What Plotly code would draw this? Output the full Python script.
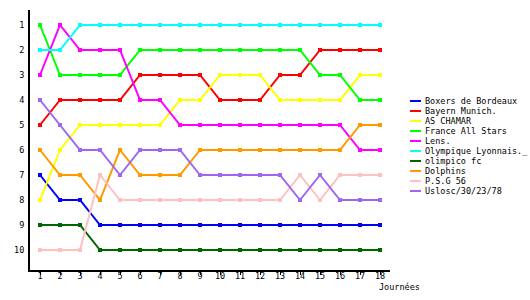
import plotly.graph_objects as go

journees = list(range(1, 19))

teams = ["Boxers de Bordeaux", "Bayern Munich.", "AS CHAMAR", "France All Stars",
         "Lens.", "Olympique Lyonnais._", "olimpico fc", "Dolphins", "P.S.G 56",
         "Uslosc/30/23/78"]

colors = ["#0000FF", "#FF0000", "#FFFF00", "#00FF00", "#FF00FF",
          "#00FFFF", "#006600", "#FF9900", "#FFC0C0", "#A066F0"]

boxers = [7, 8, 8, 9, 9, 9, 9, 9, 9, 9, 9, 9, 9, 9, 9, 9, 9, 9]
bayern = [5, 4, 4, 4, 4, 3, 3, 3, 3, 4, 4, 4, 3, 3, 2, 2, 2, 2]
chamar = [8, 6, 5, 5, 5, 5, 5, 4, 4, 3, 3, 3, 4, 4, 4, 4, 3, 3]
france = [1, 3, 3, 3, 3, 2, 2, 2, 2, 2, 2, 2, 2, 2, 3, 3, 4, 4]
lens = [3, 1, 2, 2, 2, 4, 4, 5, 5, 5, 5, 5, 5, 5, 5, 5, 6, 6]
lyon = [2, 2, 1, 1, 1, 1, 1, 1, 1, 1, 1, 1, 1, 1, 1, 1, 1, 1]
olimpico = [9, 9, 9, 10, 10, 10, 10, 10, 10, 10, 10, 10, 10, 10, 10, 10, 10, 10]
dolphins = [6, 7, 7, 8, 6, 7, 7, 7, 6, 6, 6, 6, 6, 6, 6, 6, 5, 5]
psg = [10, 10, 10, 7, 8, 8, 8, 8, 8, 8, 8, 8, 8, 7, 8, 7, 7, 7]
uslosc = [4, 5, 6, 6, 7, 6, 6, 6, 7, 7, 7, 7, 7, 8, 7, 8, 8, 8]

series = [boxers, bayern, chamar, france, lens, lyon, olimpico, dolphins, psg, uslosc]

FONT = "DejaVu Sans Mono"
FS = 8.5

fig = go.Figure()
for name, col, vals in zip(teams, colors, series):
    fig.add_trace(go.Scatter(
        x=journees, y=vals, name=name, mode="lines+markers",
        line=dict(color=col, width=2),
        marker=dict(color=col, size=4, symbol="square"),
        showlegend=False,
    ))

# manual compact legend
L, T, PW, PH = 30, 10, 360, 260
def px_x(p):
    return (p - L) / PW
def px_y(p):
    return (T + PH - p) / PH

for i, (name, col) in enumerate(zip(teams, colors)):
    py = 101 + 10 * i
    fig.add_shape(type="line", xref="paper", yref="paper",
                  x0=px_x(410), x1=px_x(421), y0=px_y(py), y1=px_y(py),
                  line=dict(color=col, width=2))
    fig.add_annotation(xref="paper", yref="paper", x=px_x(423), y=px_y(py),
                       xanchor="left", yanchor="middle", text=name, showarrow=False,
                       font=dict(family=FONT, size=FS, color="black"))

fig.add_annotation(xref="paper", yref="paper", x=px_x(377), y=px_y(287),
                   xanchor="left", yanchor="middle", text="Journées", showarrow=False,
                   font=dict(family=FONT, size=FS, color="black"))

fig.update_layout(
    width=530, height=300,
    margin=dict(l=L, r=530 - L - PW, t=T, b=300 - T - PH),
    paper_bgcolor="white", plot_bgcolor="white",
    font=dict(family=FONT, size=FS, color="black"),
    xaxis=dict(range=[0.5, 18.5], tickmode="array", tickvals=journees,
               showgrid=False, zeroline=False, showline=True, linecolor="black",
               linewidth=2, ticks="outside", ticklen=3, tickcolor="black",
               ticklabelstandoff=-6,
               tickfont=dict(family=FONT, size=FS)),
    yaxis=dict(range=[10.8, 0.4], tickmode="array", tickvals=list(range(1, 11)),
               showgrid=False, zeroline=False, showline=True, linecolor="black",
               linewidth=2, ticks="", ticklabelstandoff=2,
               tickfont=dict(family=FONT, size=FS)),
)

fig.write_html("out.html")
